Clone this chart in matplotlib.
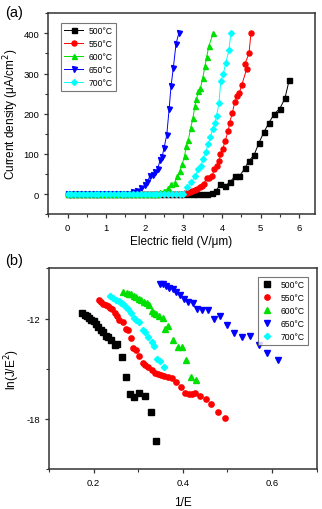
"""Field emission J-E and F-N plots for films annealed at different temperatures."""

import matplotlib
matplotlib.use("Agg")
import matplotlib.pyplot as plt
from matplotlib.ticker import MultipleLocator

plt.rcParams["font.family"] = ["Liberation Sans", "DejaVu Sans"]

labels = ["500°C", "550°C", "600°C", "650°C", "700°C"]
colors = ["#000000", "#ff0000", "#00e000", "#0000ff", "#00ffff"]
markers = ["s", "o", "^", "v", "D"]

# low-field region: current stays at zero
e_flat = [0.0, 0.1, 0.2, 0.3, 0.4, 0.5, 0.6, 0.7, 0.8, 0.9, 1.0, 1.1, 1.2, 1.3,
          1.4, 1.5, 1.6, 1.7, 1.8, 1.9, 2.0, 2.1, 2.2, 2.3, 2.4, 2.5, 2.6, 2.7,
          2.8, 2.9, 3.0]

# (a) J-E, rising part of each curve
e_500 = [3.12, 3.24, 3.36, 3.48, 3.60, 3.73, 3.84, 3.96, 4.08, 4.20, 4.33, 4.45,
         4.59, 4.70, 4.83, 4.96, 5.09, 5.22, 5.35, 5.50, 5.63, 5.74]
j_500 = [0, 0, 0.5, 0.5, 1, 3, 8, 24, 21, 29, 44, 44,
         64, 83, 97, 128, 155, 178, 199, 213, 238, 283]
e_550 = [3.04, 3.10, 3.17, 3.23, 3.30, 3.36, 3.43, 3.48, 3.53, 3.60, 3.67, 3.75,
         3.79, 3.86, 3.93, 3.96, 4.02, 4.08, 4.16, 4.20, 4.27, 4.33, 4.39, 4.45,
         4.51, 4.64, 4.59, 4.70, 4.75]
j_550 = [3, 4, 6, 8, 11, 13, 17, 20, 25, 41, 39, 44,
         62, 70, 83, 99, 112, 132, 157, 178, 203, 228, 244, 252,
         271, 311, 323, 350, 400]
e_600 = [2.40, 2.50, 2.60, 2.69, 2.77, 2.84, 2.91, 2.97, 3.03, 3.08, 3.13, 3.19,
         3.25, 3.30, 3.34, 3.39, 3.44, 3.50, 3.56, 3.60, 3.66, 3.77]
j_600 = [5, 8, 14, 26, 28, 44, 58, 75, 95, 120, 135, 165,
         190, 220, 236, 256, 263, 288, 318, 340, 368, 400]
e_650 = [1.70, 1.80, 1.90, 2.00, 2.07, 2.13, 2.20, 2.27, 2.33, 2.40, 2.45, 2.50,
         2.57, 2.63, 2.68, 2.74, 2.81, 2.88]
j_650 = [5, 9, 14, 22, 31, 45, 48, 56, 62, 85, 93, 115,
         148, 211, 268, 315, 374, 400]
e_700 = [3.10, 3.21, 3.30, 3.38, 3.45, 3.51, 3.58, 3.64, 3.70, 3.76, 3.82, 3.86,
         3.92, 3.97, 4.03, 4.10, 4.18, 4.23]
j_700 = [17, 29, 44, 62, 70, 87, 105, 124, 141, 163, 178, 195,
         226, 282, 298, 327, 358, 400]

# (b) F-N plot, ln(J/E^2) vs 1/E
x_500 = [0.174, 0.180, 0.185, 0.190, 0.195, 0.200, 0.205, 0.211, 0.217, 0.222,
         0.227, 0.232, 0.239, 0.247, 0.253, 0.263, 0.272, 0.281, 0.291, 0.302,
         0.315, 0.328, 0.341]
y_500 = [-11.66, -11.78, -11.86, -11.94, -12.06, -12.16, -12.30, -12.50, -12.66,
         -12.82, -13.02, -13.10, -13.30, -13.56, -13.50, -14.30, -15.50, -16.50,
         -16.66, -16.46, -16.62, -17.56, -19.32]
x_550 = [0.213, 0.217, 0.222, 0.227, 0.232, 0.237, 0.241, 0.247, 0.252, 0.257,
         0.267, 0.272, 0.278, 0.284, 0.289, 0.296, 0.301, 0.311, 0.316, 0.322,
         0.330, 0.337, 0.344, 0.352, 0.359, 0.367, 0.376, 0.385, 0.396, 0.405,
         0.413, 0.420, 0.427, 0.439, 0.452, 0.464, 0.478, 0.494]
y_550 = [-10.92, -11.02, -11.12, -11.18, -11.26, -11.36, -11.46, -11.66, -11.82,
         -12.06, -12.22, -12.62, -12.66, -13.16, -13.76, -13.90, -14.22, -14.66,
         -14.76, -14.90, -15.06, -15.26, -15.30, -15.36, -15.42, -15.50, -15.56,
         -15.82, -16.10, -16.42, -16.50, -16.50, -16.46, -16.60, -16.82, -17.10,
         -17.60, -17.96]
x_600 = [0.267, 0.274, 0.279, 0.285, 0.291, 0.296, 0.301, 0.307, 0.313, 0.319,
         0.324, 0.330, 0.336, 0.341, 0.346, 0.356, 0.361, 0.368, 0.379, 0.389,
         0.398, 0.407, 0.419, 0.430]
y_600 = [-10.42, -10.46, -10.52, -10.56, -10.66, -10.72, -10.82, -10.90, -11.02,
         -11.06, -11.22, -11.58, -11.66, -11.76, -11.86, -11.96, -12.60, -12.46,
         -13.28, -13.70, -13.70, -14.50, -15.50, -15.70]
x_650 = [0.348, 0.356, 0.363, 0.370, 0.378, 0.385, 0.393, 0.402, 0.411, 0.422,
         0.433, 0.444, 0.457, 0.469, 0.484, 0.500, 0.516, 0.533, 0.550, 0.570,
         0.590, 0.613]
y_650 = [-9.92, -9.96, -10.06, -10.16, -10.26, -10.42, -10.62, -10.86, -11.02,
         -11.10, -11.46, -11.50, -11.50, -12.00, -11.86, -12.36, -12.86, -13.10,
         -13.06, -13.56, -14.06, -14.46]
x_700 = [0.237, 0.244, 0.250, 0.256, 0.261, 0.267, 0.272, 0.278, 0.285, 0.291,
         0.296, 0.301, 0.311, 0.316, 0.322, 0.330, 0.336, 0.343, 0.350, 0.359]
y_700 = [-10.66, -10.80, -10.90, -10.96, -11.06, -11.16, -11.30, -11.46, -11.66,
         -11.96, -12.10, -12.22, -12.70, -12.82, -13.10, -13.42, -13.62, -14.42,
         -14.56, -14.90]

je_series = [(e_500, j_500), (e_550, j_550), (e_600, j_600), (e_650, j_650), (e_700, j_700)]
fn_series = [(x_500, y_500), (x_550, y_550), (x_600, y_600), (x_650, y_650), (x_700, y_700)]


def style_axes(ax):
    for sp in ax.spines.values():
        sp.set_linewidth(1.1)
        sp.set_color("#333333")
    ax.tick_params(which="both", direction="out", top=False, right=False,
                   labelsize=6.8, color="#333333")
    ax.tick_params(which="major", length=3, width=0.9)
    ax.tick_params(which="minor", length=2, width=0.8)


fig = plt.figure(figsize=(3.22, 5.10), dpi=100)

# ---- (a) ----
ax1 = fig.add_axes([0.150, 0.578, 0.827, 0.394])
for (e, j), lab, c, m in zip(je_series, labels, colors, markers):
    ee = [v for v in e_flat if v < e[0] - 0.05] + e
    jj = [0 for v in e_flat if v < e[0] - 0.05] + j
    ms = 3.0 if m == "D" else 3.6
    ax1.plot(ee, jj, color=c, marker=m, markersize=ms, linewidth=0.7, label=lab)
ax1.set_xlim(-0.5, 6.4)
ax1.set_ylim(-50, 450)
ax1.xaxis.set_major_locator(MultipleLocator(1))
ax1.xaxis.set_minor_locator(MultipleLocator(0.5))
ax1.yaxis.set_major_locator(MultipleLocator(100))
ax1.yaxis.set_minor_locator(MultipleLocator(50))
ax1.set_xlabel("Electric field (V/μm)", fontsize=8.5, labelpad=2)
ax1.set_ylabel("Current density (μA/cm$^2$)", fontsize=8.5, labelpad=2)
style_axes(ax1)
leg1 = ax1.legend(loc="upper left", fontsize=6.2, frameon=True, fancybox=False,
                  handlelength=2.2, labelspacing=0.45, borderpad=0.45,
                  handletextpad=0.6, bbox_to_anchor=(0.03, 0.975))
leg1.get_frame().set_edgecolor("#555555")
leg1.get_frame().set_linewidth(0.8)
fig.text(0.015, 0.988, "(a)", fontsize=10.5, va="top", ha="left")

# ---- (b) ----
ax2 = fig.add_axes([0.152, 0.078, 0.831, 0.394])
for (x, y), lab, c, m in zip(fn_series, labels, colors, markers):
    ms = 3.2 if m == "D" else 3.8
    ax2.plot(x, y, linestyle="none", color=c, marker=m, markersize=ms, label=lab)
ax2.set_xlim(0.1, 0.7)
ax2.set_ylim(-21, -9)
ax2.xaxis.set_minor_locator(MultipleLocator(0.1))
ax2.yaxis.set_minor_locator(MultipleLocator(3))
ax2.set_xticks([0.2, 0.4, 0.6])
ax2.set_xticklabels(["0.2", "0.4", "0.6"])
ax2.set_yticks([-12, -18])
ax2.set_yticklabels(["-12", "-18"])
ax2.set_xlabel("1/E", fontsize=8.5, labelpad=6)
ax2.set_ylabel("ln(J/E$^2$)", fontsize=8.5, labelpad=3)
style_axes(ax2)
leg2 = ax2.legend(loc="upper right", fontsize=6.2, frameon=True, fancybox=False,
                  handlelength=1.2, labelspacing=0.45, borderpad=0.45,
                  handletextpad=0.9, bbox_to_anchor=(0.985, 0.98))
leg2.get_frame().set_edgecolor("#555555")
leg2.get_frame().set_linewidth(0.8)
fig.text(0.015, 0.502, "(b)", fontsize=10.5, va="top", ha="left")

plt.savefig("out.png", dpi=100)
plt.close()
